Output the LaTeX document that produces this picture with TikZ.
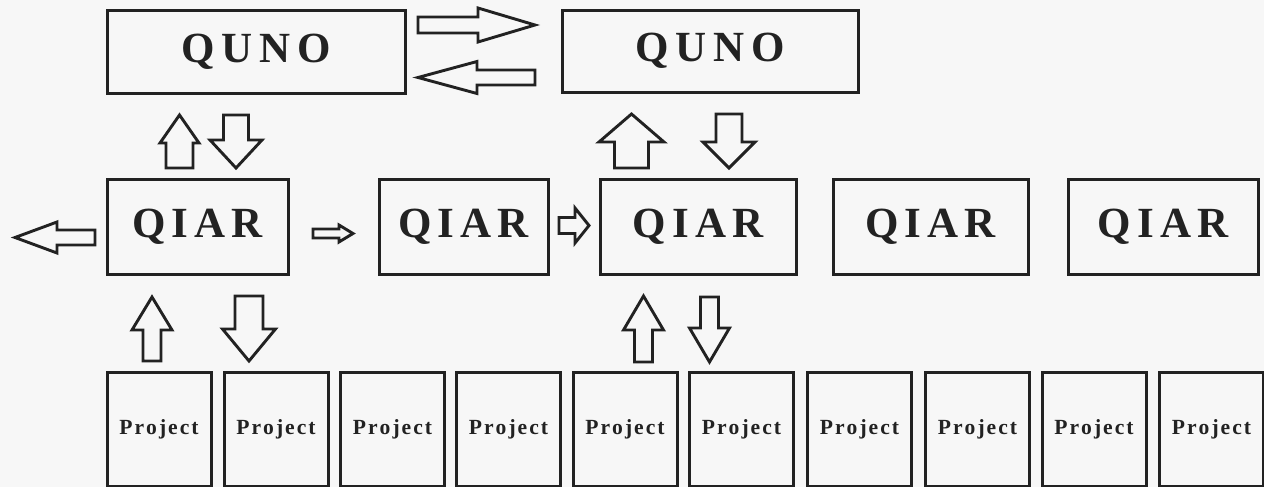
\documentclass[tikz,border=0pt]{standalone}
\usepackage{fontspec}
\setmainfont{Liberation Serif}
\definecolor{ink}{HTML}{222222}
\definecolor{bg}{HTML}{F7F7F7}
\newcommand{\quno}{Q\kern3.5pt U\kern3.5pt N\kern3.5pt O}
\newcommand{\qiar}{Q\kern3.1pt I\kern3.1pt A\kern3.1pt R}
\newcommand{\projtxt}{P\kern1pt r\kern1pt o\kern1pt j\kern1pt e\kern1pt c\kern1pt t}
% horizontal block arrow: tail x, head base x, tip x, centre y, shaft half, head half
\newcommand{\harrow}[6]{\draw[barrow] (#1,#4-#5) -- (#2,#4-#5) -- (#2,#4-#6) -- (#3,#4) -- (#2,#4+#6) -- (#2,#4+#5) -- (#1,#4+#5) -- cycle;}
% vertical block arrow: tail y, head base y, tip y, centre x, shaft half, head half
\newcommand{\varrow}[6]{\draw[barrow] (#4-#5,#1) -- (#4-#5,#2) -- (#4-#6,#2) -- (#4,#3) -- (#4+#6,#2) -- (#4+#5,#2) -- (#4+#5,#1) -- cycle;}
\begin{document}
\begin{tikzpicture}[x=0.5pt,y=-0.5pt,
  box/.style={draw=ink,line width=1.5pt,inner sep=0pt},
  barrow/.style={draw=ink,line width=1.45pt,line join=miter,fill=bg},
  big/.style={font=\fontsize{21.5}{25}\selectfont\bfseries,text=ink},
  small/.style={font=\fontsize{10.8}{12}\selectfont\bfseries,text=ink},
  qiarbox/.style={box,big,minimum height=47.5pt},
  projbox/.style={box,small,minimum width=52pt,minimum height=57pt}]
\fill[bg] (0,0) rectangle (1264,487);
\useasboundingbox (0,0) rectangle (1264,487);

% top row
\node[box,big,minimum width=149pt,minimum height=41.5pt] (quno1) at (256,51.5) {\quno};
\node[box,big,minimum width=148pt,minimum height=41pt] (quno2) at (710,51) {\quno};

% middle row
\node[qiarbox,minimum width=90.5pt] (qiar1) at (197.5,226.5) {\qiar};
\node[qiarbox,minimum width=84.5pt] (qiar2) at (463.5,226.5) {\qiar};
\node[qiarbox,minimum width=98pt] (qiar3) at (698,226.5) {\qiar};
\node[qiarbox,minimum width=97.5pt] (qiar4) at (930.5,226.5) {\qiar};
\node[qiarbox,minimum width=95pt] (qiar5) at (1163,226.5) {\qiar};

% project row
\node[projbox] (p1) at (159,429) {\projtxt};
\node[projbox] (p2) at (276,429) {\projtxt};
\node[projbox] (p3) at (392.5,429) {\projtxt};
\node[projbox] (p4) at (508.5,429) {\projtxt};
\node[projbox] (p5) at (625,429) {\projtxt};
\node[projbox] (p6) at (741.5,429) {\projtxt};
\node[projbox] (p7) at (859.5,429) {\projtxt};
\node[projbox] (p8) at (977.5,429) {\projtxt};
\node[projbox] (p9) at (1094,429) {\projtxt};
\node[projbox] (p10) at (1211.5,429) {\projtxt};

% arrows between the QUNO boxes
\harrow{418}{478}{535}{25}{8}{17}
\harrow{535}{477}{418}{77.5}{7.5}{16}

% arrows under QUNO 1
\varrow{168}{143}{115}{179.5}{13.5}{19.5}
\varrow{115}{140}{168}{236}{12.5}{26}
% arrows under QUNO 2
\varrow{168}{142}{114}{631.5}{17}{32.5}
\varrow{114}{142}{168}{729}{13}{26}

% arrows on the QIAR row
\harrow{95}{57}{15}{237.5}{7.5}{15.5}
\harrow{313}{339}{353}{233.5}{4.5}{8.5}
\harrow{559}{575}{589}{225.5}{8}{17.5}

% arrows between QIAR and projects
\varrow{361}{330}{297}{152}{9}{20}
\varrow{296}{329}{361}{249}{14}{26.5}
\varrow{362}{330}{296}{643.5}{9}{20}
\varrow{297}{328}{362}{709.5}{9}{20}
\end{tikzpicture}
\end{document}
